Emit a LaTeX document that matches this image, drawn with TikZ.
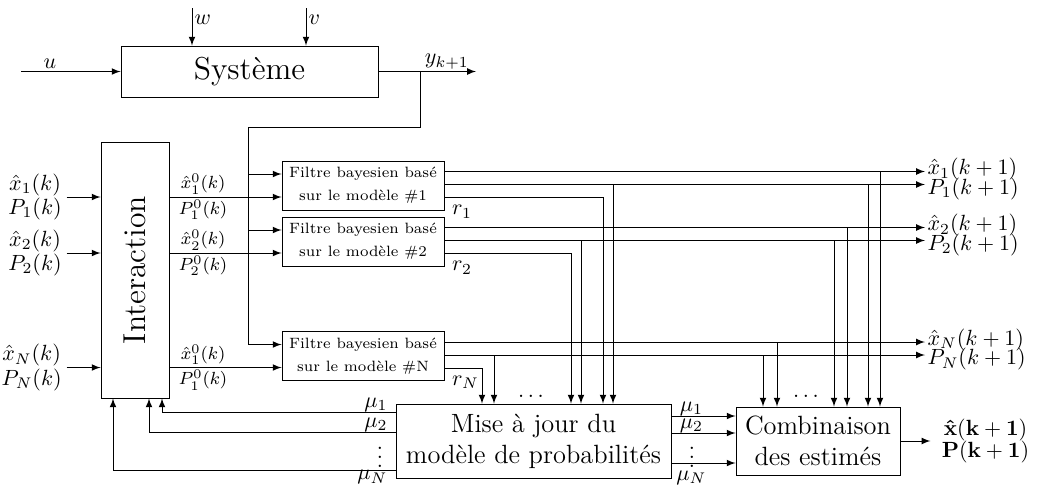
\documentclass[tikz,border=0pt]{standalone}
\usepackage{amsmath}
\usetikzlibrary{calc,positioning,arrows}

\def\pxu{0.4545pt}
\tikzstyle{bloc}   = [rectangle, draw, text centered, inner sep=0pt]
\tikzstyle{filtre} = [bloc, align=center, minimum width=162*\pxu, minimum height=49*\pxu,
                      font=\fontsize{6.8}{10.4}\selectfont]
\tikzstyle{arrow}  = [->,>=latex]

\begin{document}
\begin{tikzpicture}[x=\pxu, y=-\pxu,
			etiq/.style={inner sep=1pt}]
\useasboundingbox (0,0) rectangle (1038,485);

% blocs
\node[bloc, minimum width=257*\pxu, minimum height=51*\pxu, font=\Large] (sys) at (249.5,71.5) {Système};
\node[bloc, minimum width=68*\pxu, minimum height=256*\pxu, font=\Large] (inter) at (135,270) {\rotatebox{90}{Interaction}};
\node[filtre] (filt1) at (363,185.5) {Filtre bayesien basé\\sur le modèle \#1};
\node[filtre] (filt2) at (363,241.5) {Filtre bayesien basé\\sur le modèle \#2};
\node[filtre] (filtN) at (363,356) {Filtre bayesien basé\\sur le modèle \#N};
\node[bloc, align=center, minimum width=275*\pxu, minimum height=74*\pxu, font=\large] (maj) at (533.5,441) {Mise à jour du\\modèle de probabilités};
\node[bloc, align=center, minimum width=164*\pxu, minimum height=68*\pxu, font=\large] (comb) at (818,441) {Combinaison\\des estimés};

\coordinate (uin) at (21,71.5);
\coordinate (win) at (192,8);
\coordinate (vin) at (306,8);
\coordinate (yout) at (476,71.5);
\coordinate (br) at (420,71.5);
\coordinate (mesure) at (248,127.5);
\coordinate (sortie) at (925,0);

\foreach \i in {1,2,N}{
	\coordinate (f\i-a) at ($(filt\i.west)+(0,-11.5)$);
	\coordinate (f\i-b) at ($(filt\i.west)+(0,11.5)$);
	\coordinate (f\i-x) at ($(filt\i.east)+(0,-14)$);
	\coordinate (f\i-p) at ($(filt\i.east)+(0,-1)$);
	\coordinate (f\i-r) at ($(filt\i.east)+(0,12)$);
}

% systeme
\draw[arrow] (uin) -- (sys.west) node[pos=0.29, above, etiq] (lu) {$u$};
\draw[arrow] (win) -- (win |- sys.north) node[pos=0.32, right, etiq] (lw) {$w$};
\draw[arrow] (vin) -- (vin |- sys.north) node[pos=0.32, right, etiq] (lv) {$v$};
\draw[arrow] (sys.east) -- (yout) node[pos=0.7, above, etiq] (ly) {$y_{k+1}$};

% mesure vers les filtres
\draw (br) |- (mesure) -- (mesure |- fN-a);
\foreach \i in {1,2,N}
	\draw[arrow] (mesure |- f\i-a) -- (f\i-a);

% interaction
\foreach \i/\j in {1/1,2/2,N/1}{
	\coordinate (e\i) at ($(inter.west |- f\i-b)+(-34,0)$);
	\draw[arrow] (e\i) -- (inter.west |- f\i-b);
	\node[anchor=east, align=center, inner sep=2pt] (le\i) at (e\i) {$\hat{x}_\i(k)$\\[-1pt]$P_\i(k)$};
	\draw[arrow] (inter.east |- f\i-b) -- (f\i-b)
		node[pos=0.3, above, etiq, font=\footnotesize] (lx\i) {$\hat{x}_\j^0(k)$}
		node[pos=0.3, below, etiq, font=\footnotesize] (lp\i) {$P_\j^0(k)$};
}

% sorties des filtres
\foreach \i/\bx/\bp/\bq/\rx in {1/880/868/613/603, 2/847/834/581/571, N/777/763/494/482}{
	\draw[arrow] (f\i-x) -- (f\i-x -| sortie) node[right, etiq, yshift=1pt] (ox\i) {$\hat{x}_\i(k+1)$};
	\draw[arrow] (f\i-p) -- (f\i-p -| sortie) node[right, etiq, yshift=-2pt] (op\i) {$P_\i(k+1)$};
	\draw[arrow] (f\i-x -| \bx,0) -- (\bx,0 |- comb.north);
	\draw[arrow] (f\i-p -| \bp,0) -- (\bp,0 |- comb.north);
	\draw[arrow] (f\i-p -| \bq,0) -- (\bq,0 |- maj.north);
	\draw[arrow] (f\i-r) -| (\rx,0 |- maj.north);
	\node[below right] (r\i) at (f\i-r) {$r_\i$};
}
\node[anchor=base] (pts1) at (531,397) {$\ldots$};
\node[anchor=base] (pts2) at (806,397) {$\ldots$};

% probabilites
\draw[arrow] (maj.east |- 0,416) -- (comb.west |- 0,416) node[pos=0.31, above, inner sep=0pt] (mu1) {$\mu_1$};
\draw[arrow] (maj.east |- 0,433) -- (comb.west |- 0,433) node[pos=0.31, above, inner sep=0pt] (mu2) {$\mu_2$};
\draw[arrow] (maj.east |- 0,463) -- (comb.west |- 0,463) node[pos=0.31, below] (muN) {$\mu_N$};
\node (vd1) at (692,451) {$\vdots$};

\draw[arrow] (maj.west |- 0,412) -| (162,0 |- inter.south)
	node[pos=0, anchor=south east, inner xsep=3.5pt, inner ysep=0pt] (nu1) {$\mu_1$};
\draw[arrow] (maj.west |- 0,432) -| (149,0 |- inter.south)
	node[pos=0, anchor=south east, inner xsep=3.5pt, inner ysep=0pt] (nu2) {$\mu_2$};
\draw[arrow] (maj.west |- 0,470) -| (113,0 |- inter.south)
	node[pos=0, anchor=north east, inner xsep=3.5pt, inner ysep=0pt] (nuN) {$\mu_N$};
\node (vd2) at (380,451) {$\vdots$};

% estimation finale
\draw[arrow] (comb.east) -- ++(30,0) coordinate (fin);
\node[right, align=center, inner sep=5pt] (est) at (fin) {$\mathbf{\hat{x}(k+1)}$\\[-2pt]$\mathbf{P(k+1)}$};

\end{tikzpicture}
\end{document}
